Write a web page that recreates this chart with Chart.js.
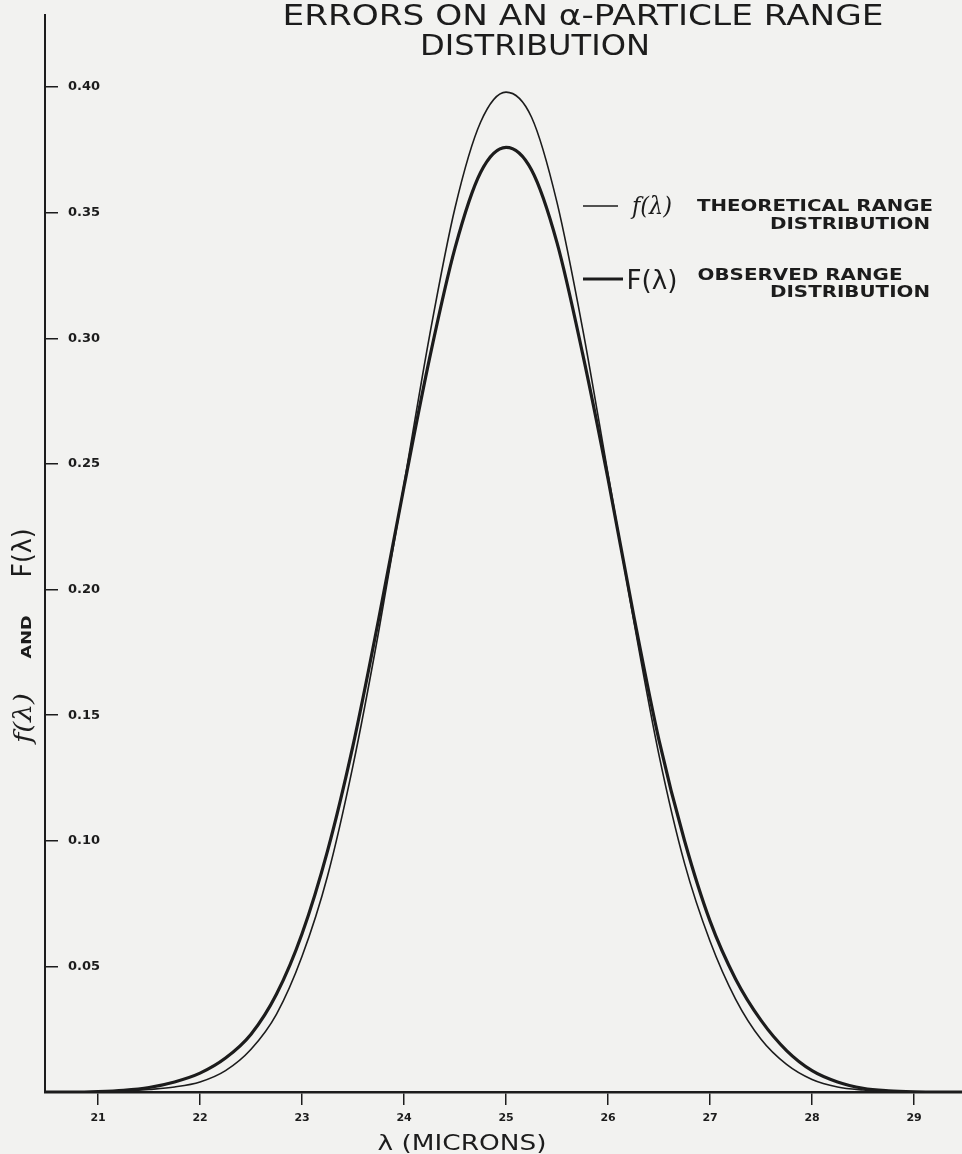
<!DOCTYPE html>
<html>
<head>
<meta charset="utf-8">
<title>Errors on an alpha-particle range distribution</title>
<script src="https://cdn.jsdelivr.net/npm/chart.js@4.4.1/dist/chart.umd.min.js"></script>
<style>
  html, body { margin: 0; padding: 0; background: #f2f2f0; overflow: hidden; }
  canvas { display: block; }
</style>
</head>
<body>
<canvas id="chart" width="962" height="1154"></canvas>
<script>
const PAPER = '#f2f2f0';
const INK = '#1c1c1c';

// range in microns
const LAMBDA = [20.25, 20.5, 20.75, 21, 21.25, 21.5, 21.75, 22, 22.25, 22.5, 22.75,
  23, 23.25, 23.5, 23.75, 24, 24.25, 24.5, 24.75, 25, 25.25, 25.5, 25.75,
  26, 26.25, 26.5, 26.75, 27, 27.25, 27.5, 27.75, 28, 28.25, 28.5, 28.75,
  29, 29.25, 29.5];

// f(lambda), theoretical range distribution (thin curve)
const THEORETICAL = [0, 0, 0, 0.0001, 0.0003, 0.001, 0.002, 0.004, 0.0085, 0.017, 0.031,
  0.054, 0.086, 0.130, 0.183, 0.242, 0.301, 0.352, 0.386, 0.398, 0.388, 0.354, 0.304,
  0.246, 0.188, 0.134, 0.091, 0.060, 0.037, 0.021, 0.011, 0.005, 0.002, 0.0008, 0.0002,
  0, 0, 0];

// F(lambda), observed range distribution (thick curve)
const OBSERVED = [0, 0, 0, 0.0002, 0.0007, 0.0018, 0.004, 0.0075, 0.0135, 0.023, 0.039,
  0.063, 0.096, 0.138, 0.188, 0.241, 0.292, 0.336, 0.366, 0.376, 0.367, 0.338, 0.294,
  0.244, 0.190, 0.140, 0.100, 0.068, 0.045, 0.0285, 0.0165, 0.0085, 0.004, 0.0015, 0.0005,
  0.0001, 0, 0];

const X_TICKS = [21, 22, 23, 24, 25, 26, 27, 28, 29];
const Y_TICKS = [0.05, 0.10, 0.15, 0.20, 0.25, 0.30, 0.35, 0.40];

const TITLE = ['ERRORS ON AN \u03b1-PARTICLE RANGE', 'DISTRIBUTION'];
const X_TITLE = '\u03bb (MICRONS)';

function points(ys) {
  return LAMBDA.map((x, i) => ({ x: x, y: ys[i] }));
}

// draw text squeezed/stretched to a given width, centred on x
function fitText(ctx, text, x, y, width, font) {
  ctx.save();
  ctx.font = font;
  const w = ctx.measureText(text).width;
  ctx.translate(x, y);
  ctx.scale(width / w, 1);
  ctx.textAlign = 'center';
  ctx.textBaseline = 'alphabetic';
  ctx.fillText(text, 0, 0);
  ctx.restore();
}

const paper = {
  id: 'paper',
  beforeDraw(chart) {
    const ctx = chart.ctx;
    ctx.save();
    ctx.fillStyle = PAPER;
    ctx.fillRect(0, 0, chart.width, chart.height);
    ctx.restore();
  }
};

const lettering = {
  id: 'lettering',
  afterDraw(chart) {
    const ctx = chart.ctx;
    ctx.save();
    ctx.fillStyle = INK;
    ctx.strokeStyle = INK;

    // title
    fitText(ctx, TITLE[0], 583, 25, 601, '29px "DejaVu Sans"');
    fitText(ctx, TITLE[1], 535, 55, 230, '29px "DejaVu Sans"');

    // legend
    ctx.lineWidth = 1.5;
    ctx.beginPath(); ctx.moveTo(583, 206); ctx.lineTo(618, 206); ctx.stroke();
    ctx.lineWidth = 3.2;
    ctx.beginPath(); ctx.moveTo(583, 279); ctx.lineTo(623, 279); ctx.stroke();
    fitText(ctx, 'f(\u03bb)', 652, 214, 40, 'italic 24px "DejaVu Serif"');
    fitText(ctx, 'F(\u03bb)', 652, 289, 51, '27px "DejaVu Sans"');
    fitText(ctx, 'THEORETICAL RANGE', 815, 211, 236, 'bold 15px "DejaVu Sans"');
    fitText(ctx, 'DISTRIBUTION', 850, 229, 160, 'bold 15px "DejaVu Sans"');
    fitText(ctx, 'OBSERVED RANGE', 800, 280, 205, 'bold 15px "DejaVu Sans"');
    fitText(ctx, 'DISTRIBUTION', 850, 297, 160, 'bold 15px "DejaVu Sans"');

    // y axis title, read bottom to top
    ctx.save();
    ctx.translate(31, 0);
    ctx.rotate(-Math.PI / 2);
    fitText(ctx, 'f(\u03bb)', -718, 0, 50, 'italic 25px "DejaVu Serif"');
    fitText(ctx, 'AND', -637, 0, 43, 'bold 14px "DejaVu Sans"');
    fitText(ctx, 'F(\u03bb)', -553, 0, 49, '26px "DejaVu Sans"');
    ctx.restore();

    // x axis title
    fitText(ctx, X_TITLE, 462, 1150, 169, '22px "DejaVu Sans"');
    ctx.restore();
  }
};

new Chart(document.getElementById('chart').getContext('2d'), {
  type: 'line',
  data: {
    datasets: [
      {
        label: 'f(\u03bb) theoretical range distribution',
        data: points(THEORETICAL),
        borderColor: INK,
        borderWidth: 1.6,
        pointRadius: 0,
        cubicInterpolationMode: 'monotone',
        fill: false,
      },
      {
        label: 'F(\u03bb) observed range distribution',
        data: points(OBSERVED),
        borderColor: INK,
        borderWidth: 3.2,
        pointRadius: 0,
        cubicInterpolationMode: 'monotone',
        fill: false,
      },
    ],
  },
  options: {
    responsive: false,
    animation: false,
    devicePixelRatio: 1,
    layout: { padding: { top: 15, left: 0, right: 0, bottom: 0 } },
    plugins: {
      legend: { display: false },
      tooltip: { enabled: false },
      title: { display: false },
    },
    scales: {
      x: {
        type: 'linear',
        min: 20.48,
        max: 29.47,
        afterFit: scale => { scale.height = 62; },
        afterBuildTicks: scale => { scale.ticks = X_TICKS.map(v => ({ value: v })); },
        ticks: {
          color: INK,
          padding: 7,
          font: { family: 'DejaVu Sans', size: 11, weight: 'bold' },
          callback: v => String(v),
        },
        grid: { drawOnChartArea: false, drawTicks: true, tickLength: 13, color: INK, lineWidth: 1.5 },
        border: { display: true, color: INK, width: 2.5 },
      },
      y: {
        type: 'linear',
        min: 0,
        max: 0.4287,
        afterFit: scale => {
          scale.width = 45;
          // mirrored labels sit inside, so no extra room is needed above or below
          scale.paddingTop = 0;
          scale.paddingBottom = 0;
        },
        afterBuildTicks: scale => { scale.ticks = Y_TICKS.map(v => ({ value: v })); },
        ticks: {
          mirror: true,
          padding: 23,
          color: INK,
          font: { family: 'DejaVu Sans', size: 13, weight: 'bold' },
          callback: v => v.toFixed(2),
        },
        grid: { drawOnChartArea: false, drawTicks: true, tickLength: -13, color: INK, lineWidth: 1.5 },
        border: { display: true, color: INK, width: 2 },
      },
    },
  },
  plugins: [paper, lettering],
});
</script>
</body>
</html>
